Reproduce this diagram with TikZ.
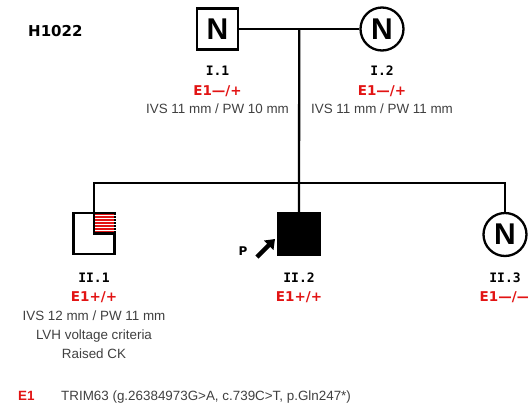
\documentclass[tikz,border=0pt]{standalone}
\usepackage{fontspec}
\setmainfont{Liberation Sans}
\newfontfamily\verdfont{DejaVu Sans}
\newfontfamily\idfont{DejaVu Sans Mono}
\usetikzlibrary{arrows.meta,positioning,calc}
\definecolor{mutred}{RGB}{226,20,20}
\definecolor{txtgray}{RGB}{64,64,64}
\tikzset{
  male/.style={rectangle, draw=black, line width=2.3pt, minimum size=41pt, inner sep=0pt,
               font=\bfseries\fontsize{30}{30}\selectfont},
  female/.style={circle, draw=black, line width=2.3pt, minimum size=43pt, inner sep=0pt,
                 font=\bfseries\fontsize{30}{30}\selectfont},
  idlabel/.style={anchor=base, inner sep=0pt, font=\idfont\bfseries\fontsize{13}{15}\selectfont},
  genolabel/.style={anchor=base, inner sep=0pt, text=mutred,
                    font=\verdfont\bfseries\fontsize{13.5}{16}\selectfont},
  pheno/.style={anchor=base, inner sep=0pt, text=txtgray, font=\fontsize{13.4}{16}\selectfont},
  pedline/.style={line width=2.3pt, draw=black},
}
\begin{document}
\begin{tikzpicture}[x=1pt, y=-1pt]
    \useasboundingbox (0,0) rectangle (528,408);
    \node[font=\verdfont\bfseries\fontsize{15}{18}\selectfont, anchor=base west, inner sep=0pt]
      (famid) at (28,36) {H1022};
    % generation I
    \node[male]   (I1) at (217.5,29) {N};
    \node[female] (I2) at (382,29) {N};
    % generation II
    \node[male]               (II1) at (94,233.5) {};
    \node[male, fill=black]   (II2) at (299,234) {};
    \node[female]             (II3) at (505,234.5) {N};
    % carrier quadrant of II.1
    \fill[mutred] ($(II1.center)+(0,-1)$) rectangle ($(II1.north east)+(-2,2)$);
    \foreach \k in {1,...,6}
      \draw[white, line width=0.8pt] ($(II1.north)!{\k/7}!(II1.center)$) -- ($(II1.north east)!{\k/7}!(II1.east)$);
    \draw[pedline] (II1.north) -- (II1.center) -- (II1.east);
    % lines of descent
    \coordinate (mate) at ($(I1.east)!0.5!(I2.west)$);
    \coordinate (sibs) at (mate |- 0,183);
    \draw[pedline] (I1) -- (I2);
    \draw[pedline] (mate) -- (II2.north);
    \draw[pedline] (II1.north) |- (sibs) -| (II3.north);
    % proband
    \node[font=\verdfont\bfseries\fontsize{12}{14}\selectfont, inner sep=0pt] (pmark) at (243,251) {P};
    \coordinate (ptail) at (257,257);
    \coordinate (ptip) at (275,239);
    \draw[line width=4.5pt, -{Triangle[length=9pt, width=13pt]}] (ptail) -- (ptip);
    % labels
    \node[idlabel]   (I1id) at (I1 |- 0,75)  {I.1};
    \node[genolabel] (I1gt) at (I1 |- 0,95)  {E1—/+};
    \node[pheno]     (I1ph) at (I1 |- 0,113) {IVS 11 mm / PW 10 mm};
    \node[idlabel]   (I2id) at (I2 |- 0,75)  {I.2};
    \node[genolabel] (I2gt) at (I2 |- 0,95)  {E1—/+};
    \node[pheno]     (I2ph) at (I2 |- 0,113) {IVS 11 mm / PW 11 mm};
    \node[idlabel]   (II1id) at (II1 |- 0,282) {II.1};
    \node[genolabel] (II1gt) at (II1 |- 0,301) {E1+/+};
    \node[pheno]     (II1ph) at (II1 |- 0,320) {IVS 12 mm / PW 11 mm};
    \node[pheno]     (II1lv) at (II1 |- 0,339) {LVH voltage criteria};
    \node[pheno]     (II1ck) at (II1 |- 0,358) {Raised CK};
    \node[idlabel]   (II2id) at (II2 |- 0,282) {II.2};
    \node[genolabel] (II2gt) at (II2 |- 0,301) {E1+/+};
    \node[idlabel]   (II3id) at (II3 |- 0,282) {II.3};
    \node[genolabel] (II3gt) at (II3 |- 0,301) {E1—/—};
    % key
    \node[anchor=base west, inner sep=0pt, text=mutred, font=\bfseries\fontsize{13.4}{16}\selectfont]
      (keyE) at (18,400) {E1};
    \node[anchor=base west, inner sep=0pt, text=txtgray, font=\fontsize{13.4}{16}\selectfont]
      (keytext) at (61,400) {TRIM63 (g.26384973G>A, c.739C>T, p.Gln247*)};
\end{tikzpicture}
\end{document}
